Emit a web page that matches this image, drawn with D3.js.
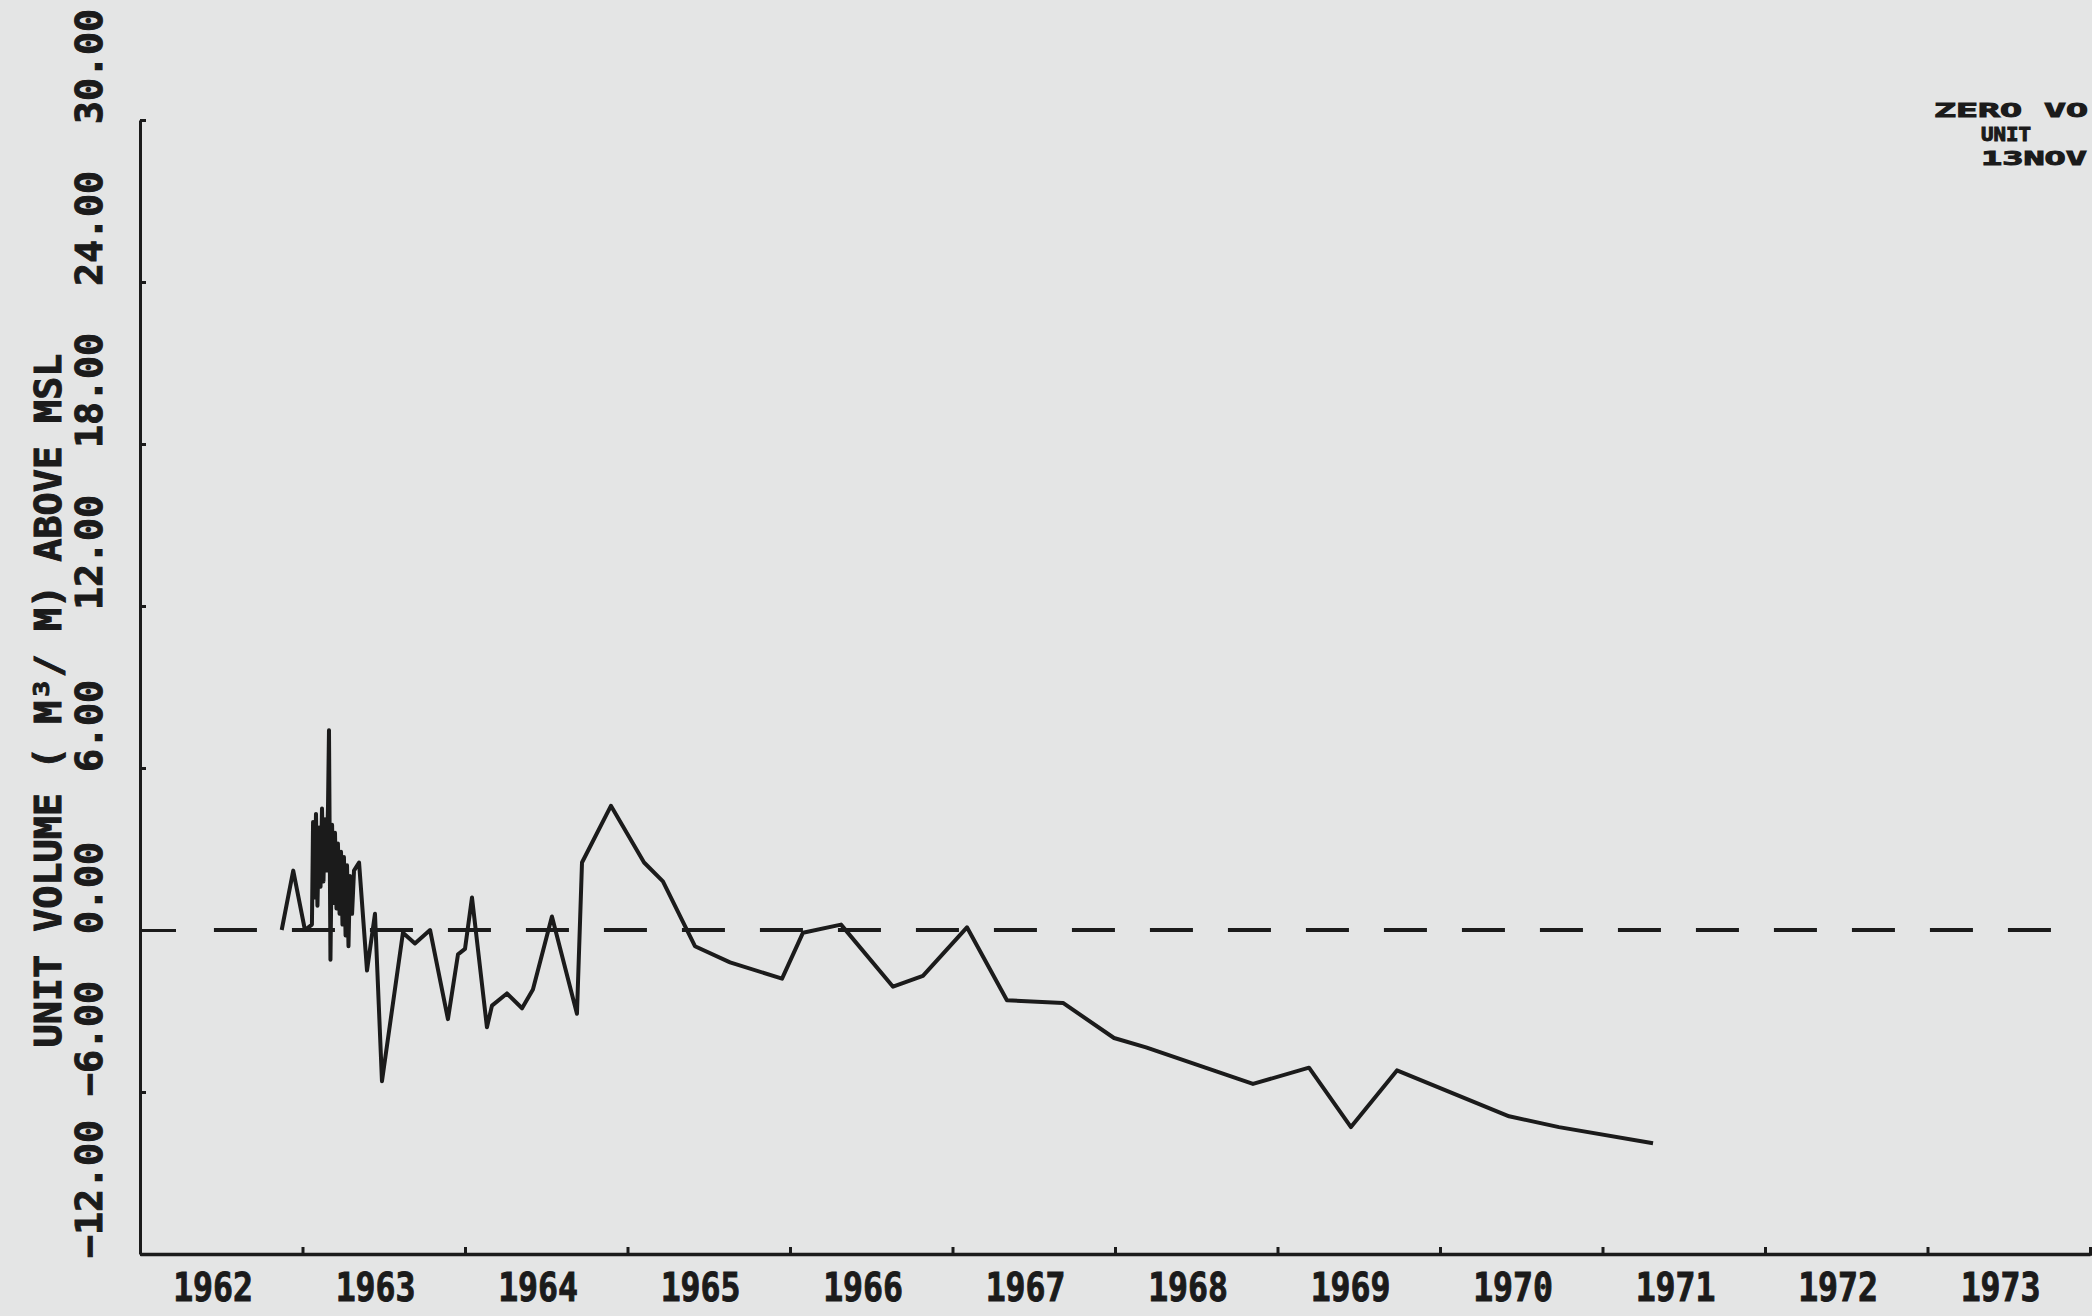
<!DOCTYPE html>
<html>
<head>
<meta charset="utf-8">
<script src="https://cdn.jsdelivr.net/npm/d3@7"></script>
<style>
  html, body { margin: 0; padding: 0; background: #e4e5e5; }
  svg { display: block; }
  text { font-family: "DejaVu Sans Mono", "Liberation Mono", monospace; font-weight: bold; fill: #1b1b1b; stroke: #1b1b1b; stroke-width: 1; }
</style>
</head>
<body>
<svg id="chart" width="2092" height="1316"></svg>
<script>
// ---- data ----
const years = [
  1962.872, 1962.943, 1963.015,
  1963.058, 1963.065, 1963.074, 1963.083, 1963.092, 1963.102, 1963.111, 1963.120,
  1963.129, 1963.138, 1963.148, 1963.157, 1963.163, 1963.172, 1963.182, 1963.191,
  1963.200, 1963.209, 1963.218, 1963.228, 1963.237, 1963.246, 1963.255, 1963.265,
  1963.274, 1963.283, 1963.292, 1963.305, 1963.317, 1963.348,
  1963.397, 1963.446, 1963.489,
  1963.618, 1963.692, 1963.785, 1963.895, 1963.957, 1964.000, 1964.043, 1964.135,
  1964.166, 1964.258, 1964.351, 1964.418, 1964.535, 1964.689, 1964.720, 1964.898,
  1965.102, 1965.218, 1965.415, 1965.631, 1965.951, 1966.080, 1966.314, 1966.634,
  1966.818, 1967.089, 1967.335, 1967.680, 1967.994, 1968.191, 1968.849, 1969.194,
  1969.452, 1969.735, 1970.425, 1970.732, 1971.311
];
const volumes = [
  0.0, 2.2, 0.0,
  0.2, 4.0, 1.2, 4.3, 0.9, 3.8, 1.6, 4.5,
  1.8, 4.1, 2.2, 4.6, 7.4, -1.1, 3.9, 1.0,
  3.6, 0.8, 3.2, 0.6, 2.9, 0.2, 2.7, -0.2,
  2.4, -0.6, 2.0, 0.6, 2.2, 2.5,
  -1.5, 0.6, -5.6,
  -0.1, -0.5, 0.0, -3.3, -0.9, -0.7, 1.2, -3.6,
  -2.8, -2.35, -2.9, -2.2, 0.5, -3.1, 2.5, 4.6,
  2.5, 1.8, -0.6, -1.2, -1.8, -0.1, 0.2, -2.1,
  -1.7, 0.1, -2.6, -2.7, -4.0, -4.35, -5.7, -5.1,
  -7.3, -5.2, -6.9, -7.3, -7.9
];
const yTickValues = [-12, -6, 0, 6, 12, 18, 24, 30];
const xTickYears = [1963, 1964, 1965, 1966, 1967, 1968, 1969, 1970, 1971, 1972, 1973, 1974];
const xLabelYears = [1962, 1963, 1964, 1965, 1966, 1967, 1968, 1969, 1970, 1971, 1972, 1973];
const zeroLineSpan = [1962.455, 1973.79];
const yTitle = "UNIT VOLUME ( M³/ M) ABOVE MSL";
const noteLines = ["ZERO VO", "UNIT", "13NOV"];

// ---- drawing ----
const svg = d3.select("#chart");
const ink = "#1b1b1b";
const x = d3.scaleLinear().domain([1962, 1974]).range([140, 2090]);
const y = d3.scaleLinear().domain([-12, 30]).range([1254, 120]);

// y axis
const gy = svg.append("g").attr("transform", `translate(${x(1962)},0)`)
  .call(d3.axisLeft(y).tickValues(yTickValues).tickSize(-6).tickFormat("").tickSizeOuter(0));
gy.select(".domain").attr("stroke", ink).attr("stroke-width", 3);
gy.selectAll(".tick line").attr("stroke", ink).attr("stroke-width", 3)
  .attr("x2", d => d === 0 ? 36 : 6);

// x axis
const gx = svg.append("g").attr("transform", `translate(0,${y(-12)})`)
  .call(d3.axisBottom(x).tickValues(xTickYears).tickSize(-7).tickFormat("").tickSizeOuter(0));
gx.select(".domain").attr("stroke", ink).attr("stroke-width", 3.5);
gx.selectAll(".tick line").attr("stroke", ink).attr("stroke-width", 3);
svg.append("line").attr("x1", x(1974)).attr("x2", 2092)
  .attr("y1", y(-12)).attr("y2", y(-12)).attr("stroke", ink).attr("stroke-width", 3.5);

// y tick labels (rotated)
const fmt = d3.format(".2f");
svg.append("g").selectAll("text").data(yTickValues).join("text")
  .attr("transform", d => `translate(102,${y(d) + 4}) rotate(-90)`)
  .attr("text-anchor", "start")
  .attr("font-size", 37)
  .attr("textLength", d => fmt(d).length * 23)
  .attr("lengthAdjust", "spacingAndGlyphs")
  .text(d => fmt(d));

// y title
svg.append("text")
  .attr("transform", `translate(61,${y(8.5)}) rotate(-90)`)
  .attr("text-anchor", "middle")
  .attr("font-size", 37)
  .attr("textLength", 694)
  .attr("lengthAdjust", "spacingAndGlyphs")
  .text(yTitle);

// x labels
svg.append("g").selectAll("text").data(xLabelYears).join("text")
  .attr("x", d => x(d + 0.45))
  .attr("y", 1301)
  .attr("text-anchor", "middle")
  .attr("font-size", 39)
  .attr("textLength", 80)
  .attr("lengthAdjust", "spacingAndGlyphs")
  .text(d => d);

// zero reference line (dashed)
svg.append("line")
  .attr("x1", x(zeroLineSpan[0])).attr("x2", x(zeroLineSpan[1]))
  .attr("y1", y(0)).attr("y2", y(0))
  .attr("stroke", ink).attr("stroke-width", 4)
  .attr("stroke-dasharray", "43 35");

// data line
const pts = years.map((t, i) => [t, volumes[i]]);
svg.append("path")
  .datum(pts)
  .attr("fill", "none")
  .attr("stroke", ink)
  .attr("stroke-width", 4)
  .attr("stroke-linejoin", "round")
  .attr("d", d3.line().x(d => x(d[0])).y(d => y(d[1])));

// top-right note (runs to the page edge)
const note = svg.append("g");
note.append("text").attr("x", 1934).attr("y", 117).attr("font-size", 20)
  .attr("textLength", 154).attr("lengthAdjust", "spacingAndGlyphs").text(noteLines[0]);
note.append("text").attr("x", 1981).attr("y", 141).attr("font-size", 19)
  .attr("textLength", 50).attr("lengthAdjust", "spacingAndGlyphs").text(noteLines[1]);
note.append("text").attr("x", 1981).attr("y", 165).attr("font-size", 20)
  .attr("textLength", 106).attr("lengthAdjust", "spacingAndGlyphs").text(noteLines[2]);
</script>
</body>
</html>
